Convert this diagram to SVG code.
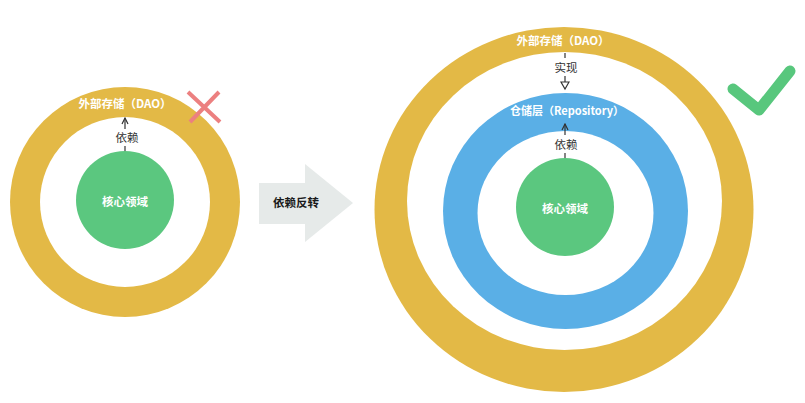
<svg xmlns="http://www.w3.org/2000/svg" width="805" height="403" viewBox="0 0 805 403">
<style>
.gold{fill:#e3b946}
.blue{fill:#5aafe6}
.green{fill:#5bc77f}
.hole{fill:#ffffff}
.lbl{font-family:"Noto Sans CJK SC","Noto Sans",sans-serif;font-size:11.5px;font-weight:700;fill:#ffffff;text-anchor:middle;dominant-baseline:central}
.edge{font-family:"Noto Sans CJK SC","Noto Sans",sans-serif;font-size:11.5px;fill:#333333;text-anchor:middle;dominant-baseline:central}
.conn{stroke:#333333;stroke-width:1.2;fill:none}
</style>
<defs>
<marker id="vee" markerUnits="userSpaceOnUse" markerWidth="8" markerHeight="8" refX="7" refY="4" orient="auto">
<path d="M1,1 L7,4 L1,7" fill="none" stroke="#333333" stroke-width="1.2"/>
</marker>
<marker id="tri" markerUnits="userSpaceOnUse" markerWidth="10" markerHeight="10" refX="8" refY="5" orient="auto">
<path d="M1,1 L8,5 L1,9 Z" fill="#ffffff" stroke="#333333" stroke-width="1.2"/>
</marker>
</defs>
<rect width="805" height="403" fill="#ffffff"/>

<g id="left-dao">
<circle class="gold" cx="125" cy="202" r="115"/>
<circle class="hole" cx="125" cy="202" r="85"/>
<text class="lbl" x="125" y="103">外部存储（DAO）</text>
</g>
<g id="left-core">
<circle class="green" cx="125" cy="200" r="49"/>
<text class="lbl" x="125" y="201">核心领域</text>
</g>
<g id="cross">
<path d="M188,92 L220,122 M219,92 L190,122" stroke="#ec8080" stroke-width="4" fill="none"/>
</g>

<g id="inversion">
<polygon points="259,183 305,183 305,164 353,203 305,242 305,224 259,224" fill="#e6eae9"/>
<text x="296" y="202" font-family="'Noto Sans CJK SC','Noto Sans',sans-serif" font-size="11.5" font-weight="700" fill="#1a1a1a" text-anchor="middle" dominant-baseline="central">依赖反转</text>
</g>

<g id="right-dao">
<ellipse class="gold" cx="564" cy="209.5" rx="189.5" ry="182.5"/>
<ellipse class="hole" cx="564.5" cy="201" rx="157.5" ry="149"/>
<text class="lbl" x="563" y="40">外部存储（DAO）</text>
</g>
<g id="right-repo">
<ellipse class="blue" cx="565.5" cy="211" rx="122.5" ry="118"/>
<ellipse class="hole" cx="565.5" cy="213" rx="88" ry="82"/>
<text class="lbl" x="567" y="110" style="font-size:11px">仓储层（Repository）</text>
</g>
<g id="right-core">
<circle class="green" cx="565" cy="207" r="49"/>
<text class="lbl" x="565" y="208">核心领域</text>
</g>
<g id="check">
<polyline points="733,89 759,110 790,71" fill="none" stroke="#58c77d" stroke-width="11" stroke-linecap="round" stroke-linejoin="round"/>
</g>

<g id="connectors">
<line class="conn" x1="125" y1="151" x2="125" y2="146"/>
<line class="conn" x1="125" y1="129" x2="125" y2="118" marker-end="url(#vee)"/>
<text class="edge" x="127" y="137">依赖</text>

<line class="conn" x1="565" y1="53" x2="565" y2="58"/>
<line class="conn" x1="565" y1="76" x2="565" y2="89" marker-end="url(#tri)"/>
<text class="edge" x="566" y="67">实现</text>

<line class="conn" x1="565" y1="158" x2="565" y2="153"/>
<line class="conn" x1="565" y1="135" x2="565" y2="124" marker-end="url(#vee)"/>
<text class="edge" x="566" y="144">依赖</text>
</g>
</svg>
